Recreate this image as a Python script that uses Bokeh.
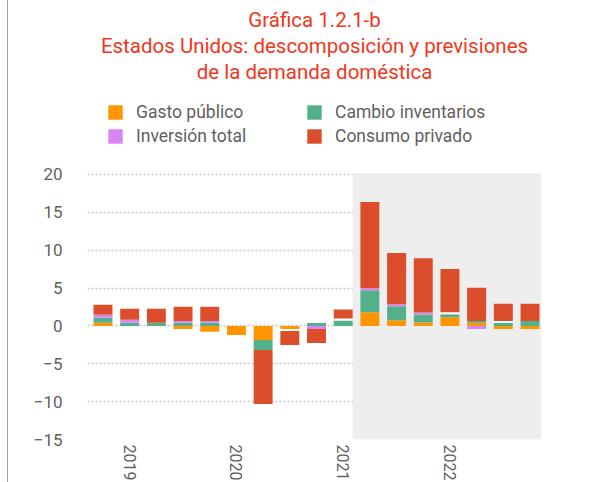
import numpy as np
from bokeh.plotting import figure
from bokeh.models import (Range1d, FixedTicker, BoxAnnotation, Legend, LegendItem, Title)
from bokeh.embed import file_html
from bokeh.resources import INLINE

# ---- data (2018Q4 .. 2022Q4) ----
quarters = ["2018T4", "2019T1", "2019T2", "2019T3", "2019T4",
            "2020T1", "2020T2", "2020T3", "2020T4",
            "2021T1", "2021T2", "2021T3", "2021T4",
            "2022T1", "2022T2", "2022T3", "2022T4"]
gasto_publico = [0.40, 0.0, 0.0, -0.40, -0.79, -1.19, -1.85, -0.40, 0.0,
                 0.0, 1.81, 0.75, 0.45, 1.15, 0.40, -0.40, -0.40]
cambio_inventarios = [0.66, 0.40, 0.40, 0.40, 0.40, 0.0, -1.32, 0.0, 0.40,
                      0.70, 2.91, 1.85, 1.06, 0.40, 0.26, 0.40, 0.66]
otros = [0.0, 0.0, 0.0, 0.0, 0.0, 0.0, 0.0, -0.26, 0.26,
         0.26, 0.0, 0.0, 0.0, 0.26, 0.0, 0.26, 0.0]
inversion_total = [0.40, 0.40, 0.0, 0.26, 0.26, 0.0, 0.0, 0.0, -0.40,
                   0.0, 0.26, 0.26, 0.26, 0.0, -0.40, 0.0, 0.0]
consumo_privado = [1.32, 1.46, 1.85, 1.85, 1.85, 0.0, -7.15, -1.85, -1.85,
                   1.19, 11.39, 6.75, 7.15, 5.70, 4.37, 2.25, 2.25]
first_forecast = "2021T2"
year_ticks = {"2019T1": "2019", "2020T1": "2020", "2021T1": "2021", "2022T1": "2022"}
y_ticks = [-15, -10, -5, 0, 5, 10, 15, 20]
title_lines = ["Gráfica 1.2.1-b",
               "Estados Unidos: descomposición y previsiones",
               "de la demanda doméstica"]

series = [
    ("Gasto público", gasto_publico, "#ff9500"),
    ("Cambio inventarios", cambio_inventarios, "#52b18b"),
    (None, otros, "#ffffff"),
    ("Inversión total", inversion_total, "#d985f4"),
    ("Consumo privado", consumo_privado, "#dc4e2b"),
]
legend_order = ["Gasto público", "Inversión total", "Cambio inventarios", "Consumo privado"]

FONT = "Roboto"
RED = "#f2361a"
GREY = "#5f5f5f"
BAR_W = 0.71

x = np.arange(len(quarters))
p = figure(frame_width=454, frame_height=356, output_backend="svg", toolbar_location=None,
           x_range=Range1d(-0.58, len(quarters) - 0.57), y_range=Range1d(-15, 32.0),
           min_border_left=87, min_border_right=54, min_border_top=0, min_border_bottom=0,
           outline_line_color=None, background_fill_color="white",
           border_fill_alpha=0,
           styles={"background": "linear-gradient(90deg, transparent 7px, #a0a0a0 7px, "
                                 "#a0a0a0 8px, transparent 8px)"})

# forecast shading
shade_left = (quarters.index(first_forecast) - 1) + BAR_W / 2
p.add_layout(BoxAnnotation(left=shade_left, top=max(y_ticks), fill_color="#eeeeee",
                           fill_alpha=1.0, line_color=None, level="underlay"))

pos_base = np.zeros(len(x))
neg_base = np.zeros(len(x))
rends = {}
for name, vals, col in series:
    v = np.array(vals, dtype=float)
    bottom = np.where(v >= 0, pos_base, neg_base)
    top = bottom + v
    pos_base = np.where(v >= 0, top, pos_base)
    neg_base = np.where(v < 0, top, neg_base)
    r = p.vbar(x=x, bottom=bottom, top=top, width=BAR_W, fill_color=col, line_color=None)
    if name:
        rends[name] = r

p.yaxis.ticker = FixedTicker(ticks=y_ticks)
p.xaxis.ticker = FixedTicker(ticks=[quarters.index(k) for k in year_ticks])
p.xaxis.major_label_overrides = {quarters.index(k): v for k, v in year_ticks.items()}
p.xaxis.major_label_orientation = "vertical"
for ax in (p.xaxis[0], p.yaxis[0]):
    ax.axis_line_color = None
    ax.major_tick_line_color = None
    ax.minor_tick_line_color = None
    ax.major_tick_out = 0
    ax.major_tick_in = 0
    ax.major_label_text_font = FONT
    ax.major_label_text_color = GREY
    ax.major_label_text_font_size = "17px"
p.yaxis.major_label_standoff = 25
p.xaxis.major_label_standoff = 5
p.xaxis.major_label_text_font_size = "16px"

p.xgrid.grid_line_color = None
p.ygrid.grid_line_color = "#c4c4c4"
p.ygrid.grid_line_dash = "2 2"
p.ygrid.grid_line_width = 1.5

legend = Legend(items=[LegendItem(label=n, renderers=[rends[n]]) for n in legend_order],
                orientation="vertical", ncols=2, location="top_left",
                glyph_width=18, glyph_height=18, label_standoff=12, spacing=4,
                label_width=165, label_height=18, padding=0, margin=19,
                border_line_color=None, background_fill_alpha=0,
                label_text_font=FONT, label_text_color=GREY, label_text_font_size="17.5px")
p.add_layout(legend)

for txt in reversed(title_lines):
    p.add_layout(Title(text=txt, align="center", text_font=FONT, text_font_size="20.5px",
                       text_color=RED, text_font_style="normal", standoff=0, offset=4),
                 "above")
# small spacer above the title block
p.add_layout(Title(text=" ", text_font_size="3px", standoff=0), "above")

open("out.html", "w").write(file_html(p, INLINE))
